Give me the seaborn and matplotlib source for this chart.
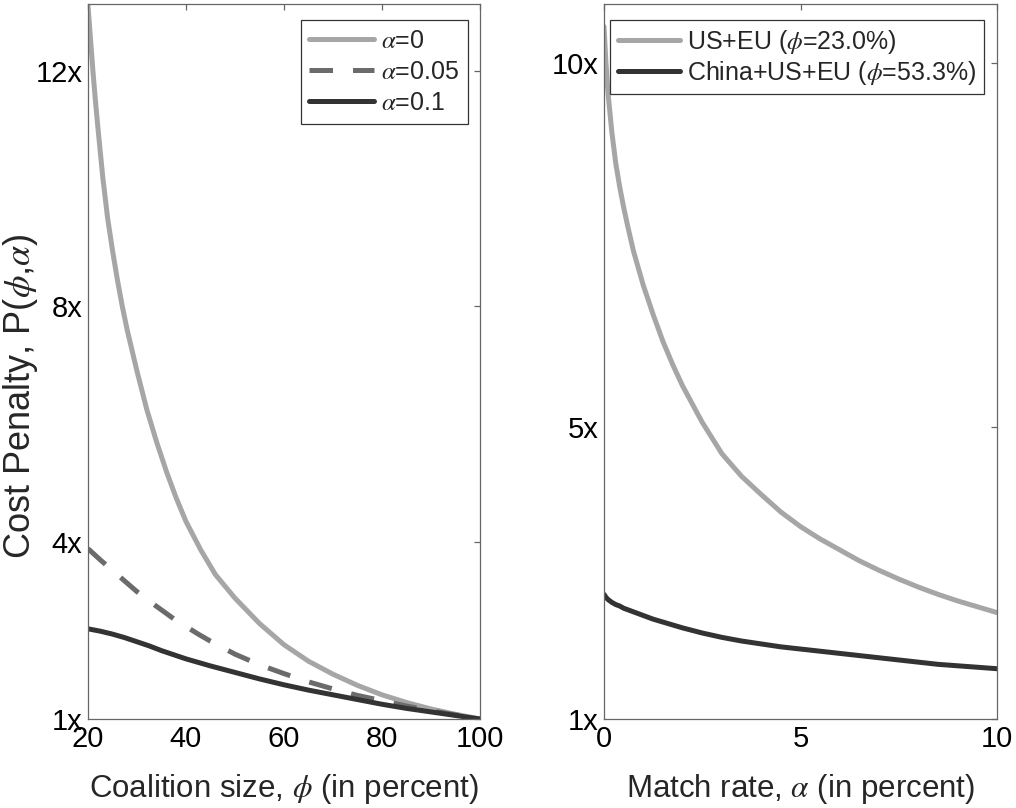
import numpy as np
import pandas as pd
import matplotlib
matplotlib.use("Agg")
import matplotlib.pyplot as plt
import seaborn as sns

# ---------------- data ----------------
phi_a0 = [20, 20.5, 21, 21.5, 22, 23, 24, 25, 26, 27, 28, 30, 32, 34, 36, 38, 40, 43, 46, 50,
          55, 60, 65, 70, 75, 80, 85, 90, 95, 100]
p_alpha0 = [13.1, 12.55, 12.0, 11.5, 11.05, 10.2, 9.5, 8.95, 8.45, 8.0, 7.6, 6.9, 6.25, 5.7, 5.2,
            4.75, 4.35, 3.87, 3.45, 3.05, 2.62, 2.26, 1.98, 1.76, 1.57, 1.41, 1.28, 1.17, 1.08, 1.0]

phi_grid = [20, 22.5, 25, 27.5, 30, 32.5, 35, 37.5, 40, 42.5, 45, 50, 55, 60, 65, 70, 75, 80,
            85, 90, 95, 100]
p_alpha005 = [3.89, 3.70, 3.52, 3.34, 3.16, 3.00, 2.85, 2.70, 2.57, 2.44, 2.32, 2.10, 1.92, 1.77,
              1.63, 1.51, 1.40, 1.31, 1.22, 1.14, 1.07, 1.0]
p_alpha01 = [2.53, 2.49, 2.44, 2.38, 2.31, 2.24, 2.16, 2.09, 2.02, 1.96, 1.90, 1.79, 1.68, 1.58,
             1.49, 1.41, 1.33, 1.25, 1.18, 1.12, 1.06, 1.0]

alpha_grid = [0, 0.05, 0.1, 0.2, 0.3, 0.4, 0.5, 0.6, 0.75, 1, 1.25, 1.5, 1.75, 2, 2.5, 3, 3.5, 4,
              4.5, 5, 5.5, 6, 6.5, 7, 7.5, 8, 8.5, 9, 9.5, 10]
p_useu = [10.5, 10.0, 9.6, 9.05, 8.62, 8.3, 8.02, 7.77, 7.42, 6.95, 6.55, 6.18, 5.86, 5.57, 5.07,
          4.64, 4.33, 4.08, 3.84, 3.64, 3.47, 3.32, 3.17, 3.04, 2.92, 2.81, 2.71, 2.62, 2.54, 2.46]
p_chinauseu = [2.71, 2.67, 2.64, 2.60, 2.57, 2.55, 2.52, 2.50, 2.47, 2.42, 2.37, 2.33, 2.29, 2.25,
               2.18, 2.12, 2.07, 2.03, 1.99, 1.96, 1.93, 1.90, 1.87, 1.84, 1.81, 1.78, 1.75, 1.73,
               1.71, 1.69]

left_labels = [r"$\alpha$=0", r"$\alpha$=0.05", r"$\alpha$=0.1"]
right_labels = [r"US+EU ($\phi$=23.0%)", r"China+US+EU ($\phi$=53.3%)"]

left_xticks = [20, 40, 60, 80, 100]
left_yticks = [1, 4, 8, 12]
right_xticks = [0, 5, 10]
right_yticks = [1, 5, 10]

# ---------------- style ----------------
sns.set_style("white")
plt.rcParams["font.family"] = ["Liberation Sans", "DejaVu Sans"]
plt.rcParams["mathtext.fontset"] = "stix"

C_LIGHT = "#a6a6a6"
C_MID = "#6b6b6b"
C_DARK = "#333333"
LW = 3.6

fig = plt.figure(figsize=(10.16, 8.08), dpi=100)
axL = fig.add_axes([88 / 1016, (808 - 719) / 808, 392 / 1016, 715 / 808])
axR = fig.add_axes([604 / 1016, (808 - 719) / 808, 393 / 1016, 715 / 808])

dfA0 = pd.DataFrame({"phi": phi_a0, "p": p_alpha0})
dfL = pd.DataFrame({"phi": phi_grid, "a005": p_alpha005, "a01": p_alpha01})
sns.lineplot(data=dfA0, x="phi", y="p", ax=axL, color=C_LIGHT, lw=LW, label=left_labels[0])
sns.lineplot(data=dfL, x="phi", y="a005", ax=axL, color=C_MID, lw=LW, label=left_labels[1])
axL.lines[-1].set_linestyle((0, (4.7, 4.0)))
axL.lines[-1].set_dash_capstyle("butt")
sns.lineplot(data=dfL, x="phi", y="a01", ax=axL, color=C_DARK, lw=LW, label=left_labels[2])

dfR = pd.DataFrame({"alpha": alpha_grid, "useu": p_useu, "cue": p_chinauseu})
sns.lineplot(data=dfR, x="alpha", y="useu", ax=axR, color=C_LIGHT, lw=LW, label=right_labels[0])
sns.lineplot(data=dfR, x="alpha", y="cue", ax=axR, color=C_DARK, lw=LW, label=right_labels[1])

for ln in axL.lines + axR.lines:
    ln.set_solid_joinstyle("round")

TICK_FS = 21
LABEL_FS = 22.5
LEG_FS = 18

for ax in (axL, axR):
    for s in ax.spines.values():
        s.set_visible(True)
        s.set_color("#666666")
        s.set_linewidth(0.9)
    ax.tick_params(direction="in", length=4, width=0.9, color="#666666",
                   top=True, right=True, labelsize=TICK_FS, pad=4, labelcolor="black")

axL.set_xlim(20, 100)
axL.set_ylim(1, 13.13)
axL.set_xticks(left_xticks)
axL.set_yticks(left_yticks)
axL.set_yticklabels([f"{v}x" for v in left_yticks])
axL.set_xlabel(r"Coalition size, $\phi$ (in percent)", fontsize=LABEL_FS, labelpad=14)
axL.set_ylabel(r"Cost Penalty, P($\phi$,$\alpha$)", fontsize=26)
axL.yaxis.set_label_coords(-0.122, 0.452)

axR.set_xlim(0, 10)
axR.set_ylim(1, 10.81)
axR.set_xticks(right_xticks)
axR.set_yticks(right_yticks)
axR.set_yticklabels([f"{v}x" for v in right_yticks])
axR.set_xlabel(r"Match rate, $\alpha$ (in percent)", fontsize=LABEL_FS, labelpad=14)
axR.set_ylabel("")

legL = axL.legend(loc="upper right", bbox_to_anchor=(0.9694, 0.9776), borderaxespad=0,
                  fontsize=LEG_FS, frameon=True, fancybox=False, framealpha=1,
                  edgecolor=C_DARK, handlelength=2.6, handletextpad=0.28,
                  labelspacing=0.28, borderpad=0.35)
legL.get_frame().set_linewidth(0.9)
legR = axR.legend(loc="upper left", bbox_to_anchor=(0.0153, 0.9776), borderaxespad=0,
                  fontsize=LEG_FS, frameon=True, fancybox=False, framealpha=1,
                  edgecolor=C_DARK, handlelength=2.5, handletextpad=0.28,
                  labelspacing=0.12, borderpad=0.3)
legR.get_frame().set_linewidth(0.9)

fig.savefig("out.png", dpi=100)
